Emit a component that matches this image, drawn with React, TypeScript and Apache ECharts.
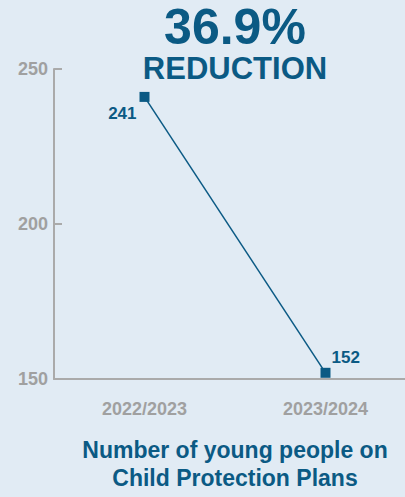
import React, { useEffect, useRef } from "react";
import * as echarts from "echarts";

const categories = ["2022/2023", "2023/2024"];
const values = [241, 152];
const yTicks = { min: 150, max: 250, interval: 50 };
const headline = "36.9%";
const headline2 = "REDUCTION";
const subtitleLines = ["Number of young people on", "Child Protection Plans"];

const BLUE = "#0b5a84";
const GREY = "#a0a0a0";
const FONT = "'Liberation Sans', Arial, sans-serif";

export default function App() {
  const ref = useRef<HTMLDivElement>(null);
  useEffect(() => {
    document.body.style.margin = "0";
    const chart = echarts.init(ref.current!, null, { renderer: "svg" });
    chart.setOption({
      animation: false,
      backgroundColor: "#e1ebf4",
      grid: { left: 54, top: 69, bottom: 118, right: 0 },
      xAxis: {
        type: "category",
        data: categories,
        boundaryGap: true,
        axisLine: { lineStyle: { color: "#aaaaaa", width: 2 } },
        axisTick: { inside: true, length: 6, lineStyle: { color: "#aaaaaa", width: 2 } },
        axisLabel: { color: GREY, fontSize: 18, fontWeight: "bold", fontFamily: FONT, margin: 21 },
      },
      yAxis: {
        type: "value",
        min: yTicks.min,
        max: yTicks.max,
        interval: yTicks.interval,
        splitLine: { show: false },
        axisLine: { show: true, lineStyle: { color: "#aaaaaa", width: 2 } },
        axisTick: { show: true, inside: true, length: 8, lineStyle: { color: "#aaaaaa", width: 2 } },
        axisLabel: { color: GREY, fontSize: 18, fontWeight: "bold", fontFamily: FONT, margin: 6 },
      },
      series: [
        {
          type: "line",
          data: values.map((v, i) => ({
            value: v,
            label:
              i === 0
                ? { position: "left", distance: 3, offset: [0, 17] }
                : { position: "right", distance: 1, offset: [0, -15] },
          })),
          symbol: "rect",
          symbolSize: 10,
          itemStyle: { color: BLUE },
          lineStyle: { color: BLUE, width: 1.5 },
          label: { show: true, color: BLUE, fontSize: 17, fontWeight: "bold", fontFamily: FONT },
        },
      ],
      graphic: [
        {
          type: "text",
          x: 235,
          y: 27,
          style: { text: headline, fill: BLUE, font: `bold 50px ${FONT}`, lineHeight: 44, textAlign: "center", textVerticalAlign: "middle" },
        },
        {
          type: "text",
          x: 235,
          y: 68,
          style: { text: headline2, fill: BLUE, font: `bold 31px ${FONT}`, lineHeight: 30, textAlign: "center", textVerticalAlign: "middle" },
        },
        ...subtitleLines.map((t, i) => ({
          type: "text",
          x: 235,
          y: 450 + i * 28,
          style: { text: t, fill: BLUE, font: `bold 23px ${FONT}`, textAlign: "center", textVerticalAlign: "middle" },
        })),
      ],
    });
    return () => chart.dispose();
  }, []);
  return (
    <div style={{ width: 405, height: 497, overflow: "hidden", position: "relative" }}>
      <div ref={ref} style={{ width: 416, height: 497 }} />
    </div>
  );
}
